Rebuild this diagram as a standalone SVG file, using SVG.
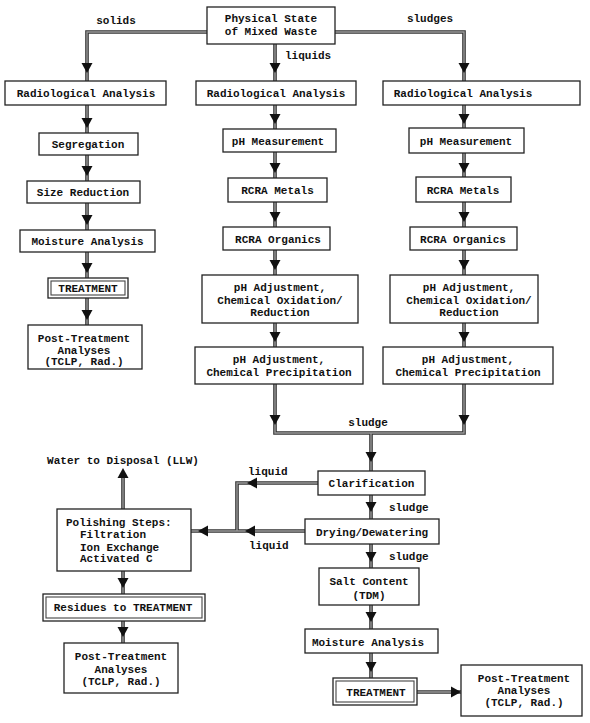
<svg xmlns="http://www.w3.org/2000/svg" xmlns:xlink="http://www.w3.org/1999/xlink" width="590" height="723" viewBox="0 0 590 723">
<style>
  .bx{fill:#fff;stroke:#222;stroke-width:1.3}
  .bx2{fill:none;stroke:#444;stroke-width:1.1}
  text{font-family:"Liberation Mono","DejaVu Sans Mono",monospace;font-weight:bold;font-size:11px;fill:#111}
  .c{text-anchor:middle}
  .ln{fill:none;stroke:#333;stroke-width:3.6;stroke-linejoin:miter}
  .li{fill:none;stroke:#9a9a9a;stroke-width:1.4;stroke-linejoin:miter}
</style>
<defs>
  <polygon id="ah" points="-5.5,-10 5.5,-10 0,0" fill="#111"/>
  <g id="cp">
    <path d="M207,32 H87 V81 M275,44 V81 M335,32 H464 V81 M87,105 V133 M87,155 V181 M87,203 V230 M87,252 V278 M87,298 V325 M275,105 V129 M275,152 V178 M275,202 V227 M275,250 V275 M275,323 V347 M275,384 V433 H464 V384 M464,105 V128 M464,153 V177 M464,202 V227 M464,250 V275 M464,323 V347 M371,433 V471 M371,495 V519 M371,544 V568 M371,605 V629 M371,653 V678 M417,692 H461 M318,483 H237 V531 M305,531 H191 M123,509 V472 M123,571 V594 M123,621 V643"/>
  </g>
</defs>
<rect width="590" height="723" fill="#fff"/>
<g id="connectors">
  <use xlink:href="#cp" class="ln"/>
  <use xlink:href="#cp" class="li"/>
  <use xlink:href="#ah" transform="translate(87,73)"/>
  <use xlink:href="#ah" transform="translate(275,73)"/>
  <use xlink:href="#ah" transform="translate(464,73)"/>
  <use xlink:href="#ah" transform="translate(87,128)"/>
  <use xlink:href="#ah" transform="translate(87,176)"/>
  <use xlink:href="#ah" transform="translate(87,225)"/>
  <use xlink:href="#ah" transform="translate(87,273)"/>
  <use xlink:href="#ah" transform="translate(87,320)"/>
  <use xlink:href="#ah" transform="translate(275,124)"/>
  <use xlink:href="#ah" transform="translate(275,173)"/>
  <use xlink:href="#ah" transform="translate(275,222)"/>
  <use xlink:href="#ah" transform="translate(275,270)"/>
  <use xlink:href="#ah" transform="translate(275,342)"/>
  <use xlink:href="#ah" transform="translate(275,425)"/>
  <use xlink:href="#ah" transform="translate(464,124)"/>
  <use xlink:href="#ah" transform="translate(464,173)"/>
  <use xlink:href="#ah" transform="translate(464,222)"/>
  <use xlink:href="#ah" transform="translate(464,270)"/>
  <use xlink:href="#ah" transform="translate(464,342)"/>
  <use xlink:href="#ah" transform="translate(464,425)"/>
  <use xlink:href="#ah" transform="translate(371,462)"/>
  <use xlink:href="#ah" transform="translate(371,512)"/>
  <use xlink:href="#ah" transform="translate(371,562)"/>
  <use xlink:href="#ah" transform="translate(371,622)"/>
  <use xlink:href="#ah" transform="translate(371,672)"/>
  <use xlink:href="#ah" transform="translate(461,692) rotate(-90)"/>
  <use xlink:href="#ah" transform="translate(247,483) rotate(90)"/>
  <use xlink:href="#ah" transform="translate(245,531) rotate(90)"/>
  <use xlink:href="#ah" transform="translate(198,531) rotate(90)"/>
  <use xlink:href="#ah" transform="translate(123,468) rotate(180)"/>
  <use xlink:href="#ah" transform="translate(123,588)"/>
  <use xlink:href="#ah" transform="translate(123,637)"/>
</g>
<g id="labels">
  <text class="c" x="116" y="24">solids</text>
  <text class="c" x="430" y="22">sludges</text>
  <text x="285" y="59">liquids</text>
  <text class="c" x="368" y="426">sludge</text>
  <text x="389" y="511">sludge</text>
  <text x="389" y="560">sludge</text>
  <text x="248" y="475">liquid</text>
  <text x="249" y="549">liquid</text>
  <text class="c" x="123" y="464">Water to Disposal (LLW)</text>
</g>
<g id="n-top"><rect class="bx" x="207" y="7" width="128" height="37"/><text class="c" x="271" y="22">Physical State</text><text class="c" x="271" y="35">of Mixed Waste</text></g>
<g id="n-radL"><rect class="bx" x="5" y="81" width="161" height="24"/><text class="c" x="86" y="97">Radiological Analysis</text></g>
<g id="n-radC"><rect class="bx" x="196" y="81" width="160" height="24"/><text class="c" x="276" y="97">Radiological Analysis</text></g>
<g id="n-radR"><rect class="bx" x="383" y="81" width="197" height="24"/><text class="c" x="463" y="97">Radiological Analysis</text></g>
<g id="n-seg"><rect class="bx" x="39" y="133" width="99" height="22"/><text class="c" x="88" y="148">Segregation</text></g>
<g id="n-size"><rect class="bx" x="27" y="181" width="113" height="22"/><text class="c" x="83" y="196">Size Reduction</text></g>
<g id="n-moistL"><rect class="bx" x="20" y="230" width="135" height="22"/><text class="c" x="87.5" y="245">Moisture Analysis</text></g>
<g id="n-treatL"><rect class="bx" x="48" y="278" width="80" height="20"/><rect class="bx2" x="51" y="281" width="74" height="14"/><text class="c" x="88" y="292">TREATMENT</text></g>
<g id="n-postL"><rect class="bx" x="28" y="325" width="114" height="44"/><text class="c" x="84" y="342">Post-Treatment</text><text class="c" x="84" y="354">Analyses</text><text class="c" x="84" y="365">(TCLP, Rad.)</text></g>
<g id="n-phC"><rect class="bx" x="223" y="129" width="113" height="23"/><text class="c" x="278" y="145">pH Measurement</text></g>
<g id="n-metC"><rect class="bx" x="228" y="178" width="99" height="24"/><text class="c" x="277.5" y="194">RCRA Metals</text></g>
<g id="n-orgC"><rect class="bx" x="223" y="227" width="107" height="23"/><text class="c" x="278" y="243">RCRA Organics</text></g>
<g id="n-oxC"><rect class="bx" x="202" y="275" width="156" height="48"/><text class="c" x="280" y="291">pH Adjustment,</text><text class="c" x="280" y="303.5">Chemical Oxidation/</text><text class="c" x="280" y="316">Reduction</text></g>
<g id="n-prC"><rect class="bx" x="195" y="347" width="168" height="37"/><text class="c" x="279" y="363">pH Adjustment,</text><text class="c" x="279" y="375.5">Chemical Precipitation</text></g>
<g id="n-phR"><rect class="bx" x="409" y="128" width="115" height="25"/><text class="c" x="466" y="145">pH Measurement</text></g>
<g id="n-metR"><rect class="bx" x="416" y="177" width="95" height="25"/><text class="c" x="463" y="194">RCRA Metals</text></g>
<g id="n-orgR"><rect class="bx" x="410" y="227" width="107" height="23"/><text class="c" x="463" y="243">RCRA Organics</text></g>
<g id="n-oxR"><rect class="bx" x="390" y="275" width="148" height="48"/><text class="c" x="469" y="291">pH Adjustment,</text><text class="c" x="469" y="303.5">Chemical Oxidation/</text><text class="c" x="469" y="316">Reduction</text></g>
<g id="n-prR"><rect class="bx" x="383" y="347" width="170" height="37"/><text class="c" x="468" y="363">pH Adjustment,</text><text class="c" x="468" y="375.5">Chemical Precipitation</text></g>
<g id="n-clar"><rect class="bx" x="318" y="471" width="107" height="24"/><text class="c" x="371.5" y="487">Clarification</text></g>
<g id="n-dry"><rect class="bx" x="305" y="519" width="134" height="25"/><text class="c" x="372" y="535.5">Drying/Dewatering</text></g>
<g id="n-salt"><rect class="bx" x="319" y="568" width="100" height="37"/><text class="c" x="369" y="585">Salt Content</text><text class="c" x="369" y="599">(TDM)</text></g>
<g id="n-moistR"><rect class="bx" x="305" y="629" width="133" height="24"/><text class="c" x="368" y="646">Moisture Analysis</text></g>
<g id="n-treatR"><rect class="bx" x="333" y="678" width="84" height="27"/><rect class="bx2" x="336" y="681" width="78" height="21"/><text class="c" x="376" y="695.5">TREATMENT</text></g>
<g id="n-postR"><rect class="bx" x="461" y="665" width="121" height="51"/><text class="c" x="524" y="682">Post-Treatment</text><text class="c" x="524" y="694">Analyses</text><text class="c" x="524" y="705.5">(TCLP, Rad.)</text></g>
<g id="n-polish"><rect class="bx" x="57" y="509" width="134" height="62"/><text x="66" y="525.5">Polishing Steps:</text><text x="80" y="538">Filtration</text><text x="80" y="550.5">Ion Exchange</text><text x="80" y="562">Activated C</text></g>
<g id="n-resid"><rect class="bx" x="43" y="594" width="162" height="27"/><rect class="bx2" x="46" y="597" width="156" height="21"/><text class="c" x="123" y="611">Residues to TREATMENT</text></g>
<g id="n-postB"><rect class="bx" x="64" y="643" width="114" height="50"/><text class="c" x="121" y="660">Post-Treatment</text><text class="c" x="121" y="672.5">Analyses</text><text class="c" x="121" y="684.5">(TCLP, Rad.)</text></g>
</svg>
